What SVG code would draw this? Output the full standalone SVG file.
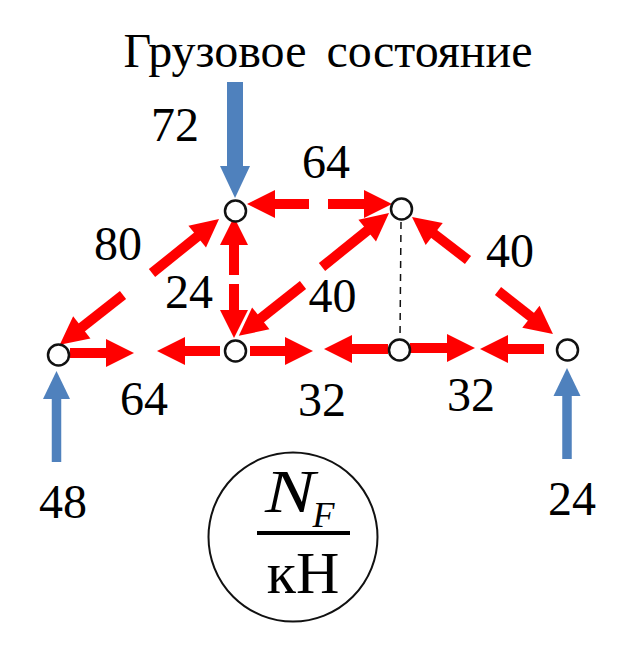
<svg xmlns="http://www.w3.org/2000/svg" width="636" height="653" viewBox="0 0 636 653">
<style>
text{font-family:"Liberation Serif","Times New Roman",serif;fill:#000;font-size:48px;text-anchor:middle}
.r{stroke:#f00;stroke-width:10;fill:none;marker-end:url(#rh)}
.b{stroke:#4f81bd;stroke-width:16;fill:none;marker-end:url(#bh)}
.s{stroke:#4f81bd;stroke-width:9.5;fill:none;marker-end:url(#sh)}
.n{fill:#fff;stroke:#111;stroke-width:2.5}
</style>
<defs>
<marker id="rh" markerUnits="userSpaceOnUse" markerWidth="30" markerHeight="28" refX="1" refY="14" orient="auto" overflow="visible"><path d="M0 0L28 14L0 28Z" fill="#f00"/></marker>
<marker id="bh" markerUnits="userSpaceOnUse" markerWidth="33" markerHeight="30" refX="1" refY="15" orient="auto" overflow="visible"><path d="M0 0L32 15L0 30Z" fill="#4f81bd"/></marker>
<marker id="sh" markerUnits="userSpaceOnUse" markerWidth="29" markerHeight="27" refX="1" refY="13.5" orient="auto" overflow="visible"><path d="M0 0L28 13.5L0 27Z" fill="#4f81bd"/></marker>
</defs>
<rect width="636" height="653" fill="#fff"/>
<g id="connectors">
<path class="b" d="M235 82V167"/>
<path class="s" d="M56.5 462V398"/>
<path class="s" d="M567 459V395"/>
<path d="M401 222L400 338" stroke="#111" stroke-width="1.5" stroke-dasharray="7 6" fill="none"/>
<path class="r" d="M152 273L198 236"/>
<path class="r" d="M123 295L81 328"/>
<path class="r" d="M70 353H107"/>
<path class="r" d="M220 351H184"/>
<path class="r" d="M250 351H286"/>
<path class="r" d="M234 275V244"/>
<path class="r" d="M234 284V311"/>
<path class="r" d="M303 285L260 319"/>
<path class="r" d="M309 204H274"/>
<path class="r" d="M328 204H365"/>
<path class="r" d="M322 267L368 230"/>
<path class="r" d="M468 260L433.4 233.4"/>
<path class="r" d="M498 291L531.7 317.4"/>
<path class="r" d="M388 349H351"/>
<path class="r" d="M410 348H448"/>
<path class="r" d="M544 349H507"/>
</g>
<g id="node-a"><circle class="n" cx="58.5" cy="355" r="10.5"/></g>
<g id="node-b"><circle class="n" cx="235.5" cy="351" r="10.5"/></g>
<g id="node-c"><circle class="n" cx="235.5" cy="211" r="10.5"/></g>
<g id="node-d"><circle class="n" cx="401.5" cy="209" r="10.5"/></g>
<g id="node-e"><circle class="n" cx="399.5" cy="350" r="10.5"/></g>
<g id="node-f"><circle class="n" cx="567.5" cy="350" r="10.5"/></g>
<g id="labels">
<text x="328" y="67" word-spacing="8">Грузовое состояние</text>
<text x="175" y="141">72</text>
<text x="326" y="178">64</text>
<text x="118" y="260">80</text>
<text x="189" y="308">24</text>
<text x="332.5" y="312">40</text>
<text x="510" y="267">40</text>
<text x="144" y="415">64</text>
<text x="322" y="416">32</text>
<text x="471" y="411">32</text>
<text x="63" y="518">48</text>
<text x="572" y="515">24</text>
</g>
<g id="legend">
<circle cx="293" cy="537" r="84.5" fill="none" stroke="#111" stroke-width="2"/>
<path d="M257 533H350" stroke="#000" stroke-width="4"/>
<text x="290" y="512" textLength="50" lengthAdjust="spacingAndGlyphs" style="font-size:62px;font-style:italic">N</text>
<text x="323.5" y="527" style="font-size:36px;font-style:italic">F</text>
<text x="303" y="593" style="font-size:60px">кН</text>
</g>
</svg>
